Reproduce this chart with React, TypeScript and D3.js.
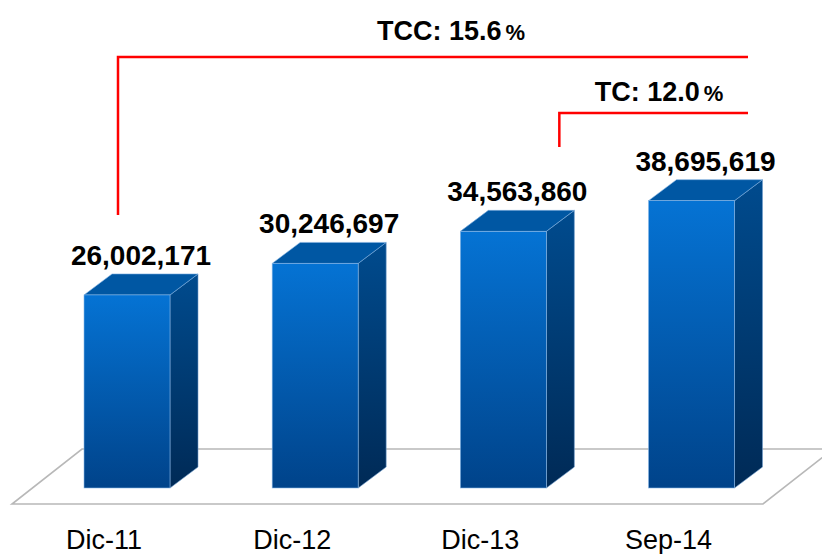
import React from "react";
import * as d3 from "d3";

const categories = ["Dic-11", "Dic-12", "Dic-13", "Sep-14"];
const values = [26002171, 30246697, 34563860, 38695619];
const tccLabel = "TCC: 15.6";
const tcLabel = "TC: 12.0";

const W = 822;
const H = 554;
const baseY = 488; // front bottom edge of bars
const depthX = 28;
const depthY = -21;
const barW = 86;

export default function App() {
  const x = d3.scalePoint<string>().domain(categories).range([127, 691.5]);
  const y = d3.scaleLinear().domain([0, 40000000]).range([baseY, baseY - 297]);
  const fmt = d3.format(",");

  // floor parallelogram
  const floor = d3.line()([
    [12, 504],
    [763, 504],
    [833, 449],
    [82, 449],
  ]) + "Z";

  const c0 = x(categories[0])!;
  const c2 = x(categories[2])!;
  const tccX = c0 - 9;
  const tcX = c2 + 56;
  const rightX = 748;

  return (
    <svg
      width={W}
      height={H}
      style={{ position: "absolute", left: 0, top: 0, background: "#fff" }}
      fontFamily="'Liberation Sans', Arial, sans-serif"
    >
      <defs>
        <linearGradient id="front" x1="0" y1="0" x2="0" y2="1">
          <stop offset="0%" stopColor="#0573d4" />
          <stop offset="100%" stopColor="#00438a" />
        </linearGradient>
        <linearGradient id="side" x1="0" y1="0" x2="0" y2="1">
          <stop offset="0%" stopColor="#004b8e" />
          <stop offset="100%" stopColor="#002a56" />
        </linearGradient>
      </defs>

      <path d={floor} fill="#fff" stroke="#b8b8b8" strokeWidth={1.6} />

      {categories.map((c, i) => {
        const cx = x(c)!;
        const x0 = cx - barW / 2;
        const x1 = cx + barW / 2;
        const top = y(values[i]);
        const side = d3.line()([
          [x1, top],
          [x1 + depthX, top + depthY],
          [x1 + depthX, baseY + depthY],
          [x1, baseY],
        ]) + "Z";
        const lid = d3.line()([
          [x0, top],
          [x0 + depthX, top + depthY],
          [x1 + depthX, top + depthY],
          [x1, top],
        ]) + "Z";
        return (
          <g key={c}>
            <path d={side} fill="url(#side)" stroke="#6f9ccc" strokeWidth={0.6} />
            <path d={lid} fill="#0057a3" stroke="#7fb0e0" strokeWidth={0.6} />
            <rect
              x={x0}
              y={top}
              width={barW}
              height={baseY - top}
              fill="url(#front)"
              stroke="#8ab8e6"
              strokeWidth={0.6}
            />
            <text
              x={cx + depthX / 2}
              y={top + depthY - 9}
              textAnchor="middle"
              fontSize={28}
              fontWeight="bold"
              fill="#000"
            >
              {fmt(values[i])}
            </text>
            <text
              x={cx - 23}
              y={549}
              textAnchor="middle"
              fontSize={27}
              fill="#000"
            >
              {c}
            </text>
          </g>
        );
      })}

      {/* growth brackets */}
      <path
        d={`M${tccX},215V57H${rightX}`}
        fill="none"
        stroke="#ff0000"
        strokeWidth={2.5}
      />
      <path
        d={`M${tcX},147V113H${rightX}`}
        fill="none"
        stroke="#ff0000"
        strokeWidth={2.5}
      />
      <text x={451} y={40} textAnchor="middle" fontSize={27} fontWeight="bold">
        {tccLabel}
        <tspan fontSize={22} dx={4}>%</tspan>
      </text>
      <text x={659} y={101} textAnchor="middle" fontSize={27} fontWeight="bold">
        {tcLabel}
        <tspan fontSize={22} dx={4}>%</tspan>
      </text>
    </svg>
  );
}
